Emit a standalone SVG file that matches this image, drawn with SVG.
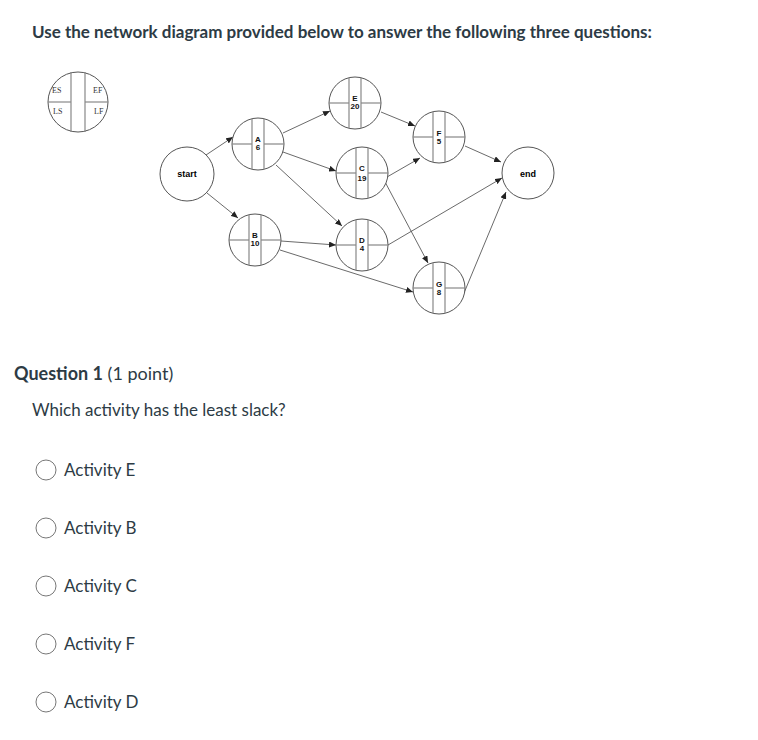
<svg xmlns="http://www.w3.org/2000/svg" width="758" height="740" viewBox="0 0 758 740">
<style>
.t{font-family:Lato,"Liberation Sans",sans-serif;fill:#2d3b45}
.c{fill:#fff;stroke:#555;stroke-width:1}
.d{stroke:#888;stroke-width:1.2}
.l{font-family:"Liberation Sans",Arial,sans-serif;font-size:8px;font-weight:bold;fill:#111;text-anchor:middle}
.e{stroke:#444;stroke-width:0.8;fill:none;marker-end:url(#ah)}
.r{fill:#fff;stroke:#777;stroke-width:1}
</style>
<defs>
<marker id="ah" markerWidth="7" markerHeight="6" refX="7" refY="3" orient="auto" markerUnits="userSpaceOnUse"><path d="M0,0L7,3L0,6z" fill="#222"/></marker>
<g id="nd"><circle class="c" r="26"/><line class="d" x1="-6" y1="-25" x2="-6" y2="25"/><line class="d" x1="6" y1="-25" x2="6" y2="25"/><line class="d" x1="-26" y1="0" x2="-6" y2="0"/><line class="d" x1="6" y1="0" x2="26" y2="0"/></g>
</defs>
<rect width="758" height="740" fill="#fff"/>
<text class="t" x="32" y="38" font-size="17" font-weight="bold">Use the network diagram provided below to answer the following three questions:</text>
<g id="legend"><circle class="c" cx="78" cy="102" r="30"/><line class="d" x1="71" y1="72" x2="71" y2="132"/><line class="d" x1="85" y1="72" x2="85" y2="132"/><line class="d" x1="48" y1="102" x2="71" y2="102"/><line class="d" x1="85" y1="102" x2="108" y2="102"/>
<g font-family="Liberation Serif,serif" font-size="8" fill="#333"><text x="52" y="93">ES</text><text x="93" y="93">EF</text><text x="53" y="114">LS</text><text x="94" y="114">LF</text></g></g>
<g id="connectors">
<line class="e" x1="206" y1="155" x2="233" y2="137"/>
<line class="e" x1="207" y1="193" x2="238" y2="218"/>
<line class="e" x1="283" y1="133" x2="330" y2="111"/>
<line class="e" x1="283" y1="152" x2="336" y2="171"/>
<line class="e" x1="276" y1="165" x2="342" y2="226"/>
<line class="e" x1="281" y1="241" x2="336" y2="245"/>
<line class="e" x1="280" y1="250" x2="413" y2="292"/>
<line class="e" x1="381" y1="112" x2="415" y2="126"/>
<line class="e" x1="387" y1="177" x2="420" y2="158"/>
<line class="e" x1="384" y1="180" x2="428" y2="263"/>
<line class="e" x1="388" y1="245" x2="502" y2="178"/>
<line class="e" x1="465" y1="146" x2="501" y2="162"/>
<line class="e" x1="464" y1="293" x2="506" y2="192"/>
</g>
<g id="start"><circle class="c" cx="187" cy="174" r="27"/><text x="187" y="177" font-family="Liberation Sans,sans-serif" font-size="9" font-weight="bold" text-anchor="middle">start</text></g>
<g id="end"><circle class="c" cx="528" cy="173" r="26"/><text x="528" y="177" font-family="Liberation Sans,sans-serif" font-size="9" font-weight="bold" text-anchor="middle">end</text></g>
<g id="A"><use href="#nd" x="258" y="144"/><text class="l" x="258" y="142">A</text><text class="l" x="258" y="150">6</text></g>
<g id="B"><use href="#nd" x="255" y="240"/><text class="l" x="255" y="238">B</text><text class="l" x="255" y="246">10</text></g>
<g id="E"><use href="#nd" x="355" y="103"/><text class="l" x="355" y="101">E</text><text class="l" x="355" y="109">20</text></g>
<g id="C"><use href="#nd" x="362" y="173"/><text class="l" x="362" y="171">C</text><text class="l" x="362" y="181">19</text></g>
<g id="D"><use href="#nd" x="362" y="245"/><text class="l" x="362" y="243">D</text><text class="l" x="362" y="251">4</text></g>
<g id="F"><use href="#nd" x="439" y="137"/><text class="l" x="439" y="136">F</text><text class="l" x="439" y="144">5</text></g>
<g id="G"><use href="#nd" x="439" y="288"/><text class="l" x="439" y="287">G</text><text class="l" x="439" y="295">8</text></g>
<text class="t" x="14" y="380" font-size="18"><tspan font-weight="bold">Question 1</tspan> (1 point)</text>
<text class="t" x="32" y="416" font-size="17">Which activity has the least slack?</text>
<g class="t" font-size="17">
<circle class="r" cx="46" cy="470" r="10"/><text x="64" y="476">Activity E</text>
<circle class="r" cx="46" cy="528" r="10"/><text x="64" y="534">Activity B</text>
<circle class="r" cx="46" cy="586" r="10"/><text x="64" y="592">Activity C</text>
<circle class="r" cx="46" cy="644" r="10"/><text x="64" y="650">Activity F</text>
<circle class="r" cx="46" cy="702" r="10"/><text x="64" y="708">Activity D</text>
</g>
</svg>
